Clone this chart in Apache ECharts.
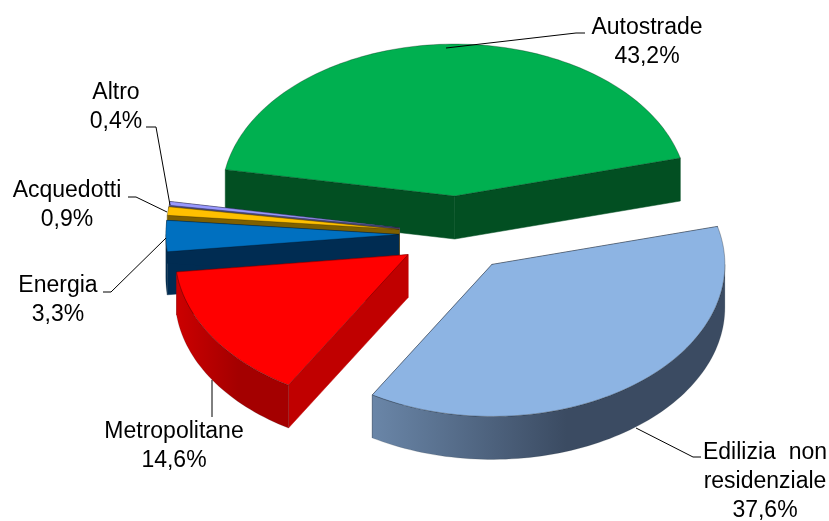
<!DOCTYPE html>
<html><head><meta charset="utf-8">
<style>html,body{margin:0;padding:0;background:#fff}#c{width:829px;height:521px}</style>
<script src="https://cdn.jsdelivr.net/npm/echarts@6/dist/echarts.min.js"></script>
</head><body><div id="c"></div>
<script>
// Data
const categories = ['Autostrade','Edilizia non residenziale','Metropolitane','Energia','Acquedotti','Altro'];
const values = [43.2,37.6,14.6,3.3,0.9,0.4];
const labelLines = [['Autostrade'],['Edilizia  non','residenziale'],['Metropolitane'],['Energia'],['Acquedotti'],['Altro']];

// Layout and style
const W=829,H=521;
const cx=457,cy=234,rx=233,ry=152,depth=43,explode=0.25,firstAngle=-80;
const topColors=['#00B050','#8DB4E3','#FF0000','#0070C0','#FFC000','#9999FF'];
const cutColors=['#024F22','#3B4B62','#C00000','#002C52','#7F6000','#4C4C80'];
const wallColors=[['#024F22','#024F22'],['#6A86A8','#3B4B62'],['#CC0000','#A40000'],['#002C52','#002C52'],['#7F6000','#7F6000'],['#4C4C80','#4C4C80']];
const paintOrder=[0,5,4,3,2,1];
const labelPos=[[647,28],[765,453],[174,432],[58,286],[67,191],[116,93]];
const lineGap=28.8;
const fontSize=23;
const leaders=[
 [[446,48],[576,33],[585,33]],
 [[636,428],[693,457],[701,457]],
 [[212,380],[212,417]],
 [[166,238],[111,292],[103,292]],
 [[167,212],[136,197],[128,197]],
 [[170,205],[156,127],[146,127]]
];
const pctText=v=>v.toFixed(1).replace('.',',')+'%';
const total=values.reduce((a,b)=>a+b,0);
let acc=firstAngle;
const slices=values.map(v=>{const s=acc,e=acc+v/total*360;acc=e;return {s,e};});
const rad=d=>d*Math.PI/180;
const edge='rgba(0,0,0,0.45)';

function renderSlice(params,api){
  const i=api.value(0), {s,e}=slices[i], mid=rad((s+e)/2);
  const ax=cx+explode*rx*Math.sin(mid), ay=cy-explode*ry*Math.cos(mid);
  const P=(deg,d)=>[ax+rx*Math.sin(rad(deg)), ay-ry*Math.cos(rad(deg))+(d||0)];
  const n=Math.max(4,Math.ceil((e-s)/1.5));
  const rim=[];for(let k=0;k<=n;k++)rim.push(P(s+(e-s)*k/n));
  const ch=[];
  const wall=(a,b,fill)=>ch.push({type:'polygon',shape:{points:[a,b,[b[0],b[1]+depth],[a[0],a[1]+depth]]},
    style:{fill,stroke:fill,lineWidth:0.5}});
  // radial walls
  wall([ax,ay],P(s),cutColors[i]);
  wall([ax,ay],P(e),cutColors[i]);
  // visible part of outer wall: clockwise bearings 90..270
  const a0=Math.max(s,90), a1=Math.min(e,270);
  if(a1>a0){
    const up=[],dn=[],m=Math.max(4,Math.ceil((a1-a0)/1.5));
    for(let k=0;k<=m;k++){const d=a0+(a1-a0)*k/m;up.push(P(d));dn.unshift(P(d,depth));}
    const cols=wallColors[i];
    ch.push({type:'polygon',shape:{points:up.concat(dn)},
      style:{fill:{type:'linear',x:0,y:0,x2:1,y2:0,colorStops:[{offset:0,color:cols[0]},{offset:0.55,color:cols[1]},{offset:1,color:cols[1]}]},stroke:'rgba(40,50,60,0.35)',lineWidth:0.5}});
  }
  // top face
  ch.push({type:'polygon',shape:{points:[[ax,ay]].concat(rim)},style:{fill:topColors[i],stroke:edge,lineWidth:0.6}});
  return {type:'group',children:ch};
}
function renderLabels(params,api){
  const i=api.value(0), ch=[];
  ch.push({type:'polyline',shape:{points:leaders[i]},style:{fill:null,stroke:'#000',lineWidth:1}});
  const lines=labelLines[i].concat([pctText(values[i])]);
  lines.forEach((t,k)=>ch.push({type:'text',style:{text:t,x:labelPos[i][0],y:labelPos[i][1]+k*lineGap,
    textAlign:'center',textVerticalAlign:'middle',fill:'#000',font:fontSize+'px "Liberation Sans", Arial, sans-serif'}}));
  return {type:'group',children:ch};
}
const chart=echarts.init(document.getElementById('c'),null,{renderer:'canvas',width:W,height:H});
chart.setOption({
  animation:false,backgroundColor:'#fff',
  series:[
   {type:'custom',coordinateSystem:'none',silent:true,renderItem:renderSlice,
    data:paintOrder.map(i=>({name:categories[i],value:[i,values[i]]})),z:1},
   {type:'custom',coordinateSystem:'none',silent:true,renderItem:renderLabels,
    data:categories.map((c,i)=>({name:c,value:[i,values[i]]})),z:2}
  ]
});
</script></body></html>
